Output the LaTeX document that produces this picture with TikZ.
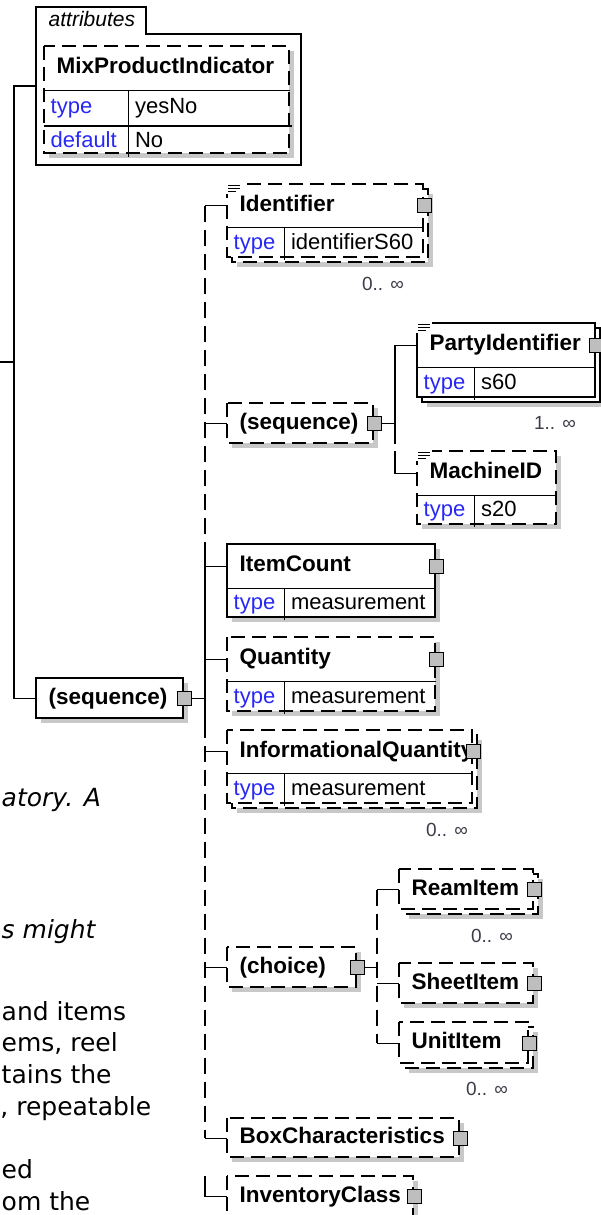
\documentclass[tikz,border=0pt]{standalone}
\usepackage{fontspec}
\setmainfont{Liberation Sans}
\newfontfamily\notefont{DejaVu Sans}[ItalicFont={DejaVu Sans Oblique}]
\definecolor{typeblue}{RGB}{40,40,245}
\definecolor{occgray}{RGB}{60,60,72}
\definecolor{shadegray}{RGB}{200,200,200}
\definecolor{pluggray}{RGB}{190,190,190}
\tikzset{
  opt/.style={dash pattern=on 14pt off 7pt},
  spine/.style={dash pattern=on 16pt off 8pt},
  shade/.style={fill=shadegray},
  elname/.style={anchor=north west, inner xsep=12pt, inner ysep=0pt, align=left,
    font=\bfseries\fontsize{22.5}{26}\selectfont, text height=16pt, text depth=5pt},
  elkey/.style={anchor=north west, inner xsep=6pt, inner ysep=0pt, text width=44pt, align=left,
    text=typeblue, font=\fontsize{22}{26}\selectfont, text height=16pt, text depth=5pt},
  elval/.style={anchor=north west, inner xsep=6pt, inner ysep=0pt, align=left,
    font=\fontsize{22}{26}\selectfont, text height=16pt, text depth=5pt},
  plug/.style={draw, fill=pluggray, minimum size=14pt, inner sep=0pt, line width=1.2pt},
  occ/.style={text=occgray, inner sep=0pt, font=\fontsize{19}{22}\selectfont},
  note/.style={anchor=base west, inner sep=0pt, font=\notefont\fontsize{25}{30}\selectfont}
}
% shadow and white box
\newcommand{\elbox}[5]{\fill[shade] (#2+5,#3+5) rectangle (#4+5,#5+5);
  \draw[#1,fill=white] (#2,#3) rectangle (#4,#5);}
% repeated element: second frame behind
\newcommand{\elmulti}[5]{\fill[shade] (#2+10,#3+10) rectangle (#4+10,#5+10);
  \draw[#1,fill=white] (#2+5,#3+5) rectangle (#4+5,#5+5);
  \draw[#1,fill=white] (#2,#3) rectangle (#4,#5);}
% documentation mark
\newcommand{\docicon}[2]{\fill[white] (#1-1,#2-1) rectangle (#1+15,#2+10);
  \draw[line width=1pt] (#1+1,#2+1.5) -- (#1+13,#2+1.5) (#1+1,#2+4.5) -- (#1+13,#2+4.5)
    (#1+1,#2+7.5) -- (#1+9,#2+7.5);}
\begin{document}
\begin{tikzpicture}[x=1pt,y=-1pt,line width=1.4pt]
\useasboundingbox (0,0) rectangle (601,1215);

% attributes
\draw (36,165) -- (36,7) -- (146,7) -- (146,34) -- (301,34) -- (301,165) -- cycle;
\node[anchor=base west, inner sep=0pt, font=\itshape\fontsize{21}{24}\selectfont] (attrtab) at (48,27) {attributes};
\coordinate (attrs) at (36,86);
\elbox{opt}{44}{46}{289}{153}
\node[elname, text width=221pt, minimum height=43pt] (mix) at (44,46) {MixProductIndicator};
\node[elkey, text width=71pt, minimum height=34pt] (mixkey1) at (mix.south west) {type};
\node[elval, text width=150pt, minimum height=34pt] (mixval1) at (mixkey1.north east) {yesNo};
\node[elkey, text width=71pt, minimum height=30pt] (mixkey2) at (mixkey1.south west) {default};
\node[elval, text width=150pt, minimum height=30pt] (mixval2) at (mixkey2.north east) {No};
\draw (mix.south west) -- (mix.south east) (mixkey1.south west) -- (mixval1.south east)
  (mixkey1.north east) -- (mixkey2.south east);

% outer sequence
\elbox{solid}{36}{678}{183}{718}
\node[elname, text width=123pt, minimum height=40pt] (outerseq) at (36,678) {(sequence)};
\node[plug] (outerplug) at (outerseq.east) {};

\coordinate (lj) at (14,0);
\coordinate (rootin) at (0,362);
\draw (attrs) -- (lj |- attrs) -- (lj |- outerseq.west) -- (outerseq.west);
\draw (rootin) -- (lj |- rootin);

% Identifier
\elmulti{opt}{227}{184}{423}{257}
\docicon{227}{184}
\node[elname, text width=172pt, minimum height=42pt] (ident) at (227,184) {Identifier};
\node[elkey, minimum height=31pt] (identkey) at (ident.south west) {type};
\node[elval, text width=128pt, minimum height=31pt] (identval) at (identkey.north east) {identifierS60};
\draw (ident.south west) -- (ident.south east) (identkey.north east) -- (identkey.south east);
\node[plug] (identplug) at (ident.east) {};
\node[occ] (identocc) at (383,284) {0.. ∞};

% inner sequence
\elbox{opt}{227}{403}{373}{443}
\node[elname, text width=122pt, minimum height=40pt] (innerseq) at (227,403) {(sequence)};
\node[plug] (innerplug) at (innerseq.east) {};

% PartyIdentifier
\elmulti{solid}{417}{323}{595}{397}
\docicon{417}{323}
\node[elname, text width=154pt, minimum height=43pt] (party) at (417,323) {PartyIdentifier};
\node[elkey, minimum height=31pt] (partykey) at (party.south west) {type};
\node[elval, text width=110pt, minimum height=31pt] (partyval) at (partykey.north east) {s60};
\draw (party.south west) -- (party.south east) (partykey.north east) -- (partykey.south east);
\node[plug] (partyplug) at (party.east) {};
\node[occ] (partyocc) at (555,423) {1.. ∞};

% MachineID
\elbox{opt}{417}{451}{556}{524}
\docicon{417}{451}
\node[elname, text width=115pt, minimum height=43pt] (machine) at (417,451) {MachineID};
\node[elkey, minimum height=30pt] (machinekey) at (machine.south west) {type};
\node[elval, text width=71pt, minimum height=30pt] (machineval) at (machinekey.north east) {s20};
\draw (machine.south west) -- (machine.south east) (machinekey.north east) -- (machinekey.south east);

\coordinate (pj) at (395,0);
\coordinate (pjgap) at (395,444);
\draw (innerplug.east) -- (pj |- innerplug.east);
\draw (party.west) -| (pjgap);
\draw (pj |- machine.north) |- (machine.west);

% ItemCount
\elbox{solid}{227}{544}{435}{617}
\node[elname, text width=184pt, minimum height=43pt] (itemcount) at (227,544) {ItemCount};
\node[elkey, minimum height=30pt] (itemcountkey) at (itemcount.south west) {type};
\node[elval, text width=140pt, minimum height=30pt] (itemcountval) at (itemcountkey.north east) {measurement};
\draw (itemcount.south west) -- (itemcount.south east) (itemcountkey.north east) -- (itemcountkey.south east);
\node[plug] (itemcountplug) at (itemcount.east) {};

% Quantity
\elbox{opt}{227}{637}{435}{711}
\node[elname, text width=184pt, minimum height=43pt] (quantity) at (227,637) {Quantity};
\node[elkey, minimum height=31pt] (quantitykey) at (quantity.south west) {type};
\node[elval, text width=140pt, minimum height=31pt] (quantityval) at (quantitykey.north east) {measurement};
\draw (quantity.south west) -- (quantity.south east) (quantitykey.north east) -- (quantitykey.south east);
\node[plug] (quantityplug) at (quantity.east) {};

% InformationalQuantity
\elmulti{opt}{227}{730}{472}{803}
\node[elname, text width=221pt, minimum height=42pt] (infoqty) at (227,730) {InformationalQuantity};
\node[elkey, minimum height=31pt] (infoqtykey) at (infoqty.south west) {type};
\node[elval, text width=177pt, minimum height=31pt] (infoqtyval) at (infoqtykey.north east) {measurement};
\draw (infoqty.south west) -- (infoqty.south east) (infoqtykey.north east) -- (infoqtykey.south east);
\node[plug] (infoqtyplug) at (infoqty.east) {};
\node[occ] (infoqtyocc) at (447,830) {0.. ∞};

% choice
\elbox{opt}{227}{947}{356}{987}
\node[elname, text width=105pt, minimum height=40pt] (choice) at (227,947) {(choice)};
\node[plug] (choiceplug) at (choice.east) {};

\elmulti{opt}{399}{869}{533}{909}
\node[elname, text width=110pt, minimum height=40pt] (ream) at (399,869) {ReamItem};
\node[plug] (reamplug) at (ream.east) {};
\node[occ] (reamocc) at (492,936) {0.. ∞};

\elbox{opt}{399}{963}{533}{1003}
\node[elname, text width=110pt, minimum height=40pt] (sheet) at (399,963) {SheetItem};
\node[plug] (sheetplug) at (sheet.east) {};

\elmulti{opt}{399}{1022}{528}{1063}
\node[elname, text width=105pt, minimum height=41pt] (unit) at (399,1022) {UnitItem};
\node[plug] (unitplug) at (unit.east) {};
\node[occ] (unitocc) at (487,1089) {0.. ∞};

\coordinate (cj) at (377,0);
\draw (choiceplug.east) -- (cj |- choiceplug.east);
\draw[spine] (cj |- ream.west) -- (cj |- unit.west);
\foreach \n in {ream,sheet,unit}
  \draw (cj |- \n.west) -- (\n.west);

% BoxCharacteristics, InventoryClass
\elbox{opt}{227}{1118}{459}{1157}
\node[elname, text width=208pt, minimum height=39pt] (boxchar) at (227,1118) {BoxCharacteristics};
\node[plug] (boxcharplug) at (boxchar.east) {};

\elbox{opt}{227}{1176}{413}{1232}
\node[elname, text width=162pt, minimum height=40pt] (invclass) at (227,1176) {InventoryClass};
\node[plug] (invclassplug) at (invclass.east) {};

% spine of the sequence
\coordinate (spine) at (205,0);
\coordinate (spb) at (205,722);
\draw (outerplug.east) -- (spine |- outerplug.east);
\draw[spine] (spine |- ident.west) -- (spine |- itemcount.north);
\draw (spine |- itemcount.north) -- (spb);
\draw[spine] (spb) -- (spine |- boxchar.west);
\draw (spine |- invclass.north) -- (spine |- invclass.west);
\foreach \n in {ident,innerseq,itemcount,quantity,infoqty,choice,boxchar,invclass}
  \draw (spine |- \n.west) -- (\n.west);

% page text cut at the left
\node[note] (n1) at (1,806) {\itshape atory. A};
\node[note] (n2) at (1,938) {\itshape s might};
\node[note] (n3) at (1,1020) {and items};
\node[note] (n4) at (1,1051) {ems, reel};
\node[note] (n5) at (1,1083) {tains the};
\node[note, anchor=base east] (n6) at (152,1115) {, repeatable};
\node[note] (n7) at (1,1178) {ed};
\node[note] (n8) at (1,1210) {om the};
\end{tikzpicture}
\end{document}
